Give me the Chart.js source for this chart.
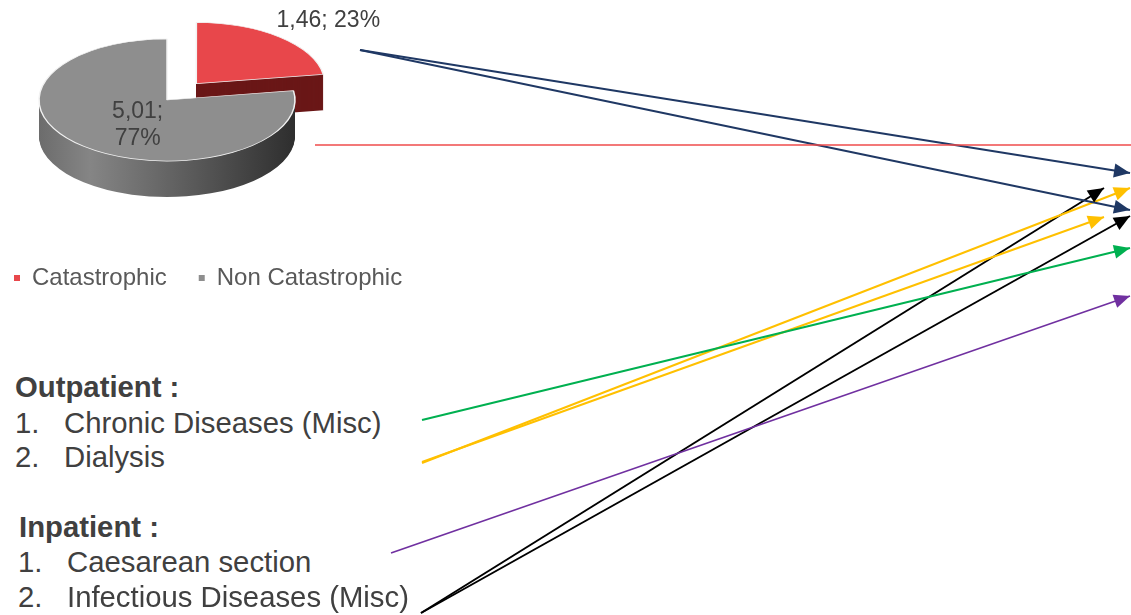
<!DOCTYPE html>
<html>
<head>
<meta charset="utf-8">
<script src="https://cdn.jsdelivr.net/npm/chart.js@4.4.1/dist/chart.umd.min.js"></script>
<style>
  body { margin: 0; width: 1131px; height: 615px; overflow: hidden; background: #fff; position: relative;
         font-family: 'Liberation Sans', Arial, sans-serif; color: #404040; }
  #pie { position: absolute; left: -18px; top: 0; }
  #links { position: absolute; left: 0; top: 0; }
  .t { position: absolute; font-size: 29.3px; line-height: 29px; white-space: nowrap; }
  .h { font-weight: bold; }
</style>
</head>
<body>
<canvas id="pie" width="640" height="300"></canvas>
<div id="notes"></div>
<canvas id="links" width="1131" height="615"></canvas>
<script>
const pieLabels = ['Catastrophic', 'Non Catastrophic'];
const pieValues = [1.46, 5.01];
const pieColors = ['#e8474b', '#8e8e8e'];

const outpatient = ['Chronic Diseases (Misc)', 'Dialysis'];
const inpatient = ['Caesarean section', 'Infectious Diseases (Misc)'];

// connectors, in page pixels
const links = [
  { color: '#ef4b4b', width: 1.3, from: [315, 145], to: [1131, 145], head: false },
  { color: '#1f3864', width: 2, from: [360, 50], to: [1130, 173], head: true },
  { color: '#1f3864', width: 2, from: [360, 50], to: [1130, 210], head: true },
  { color: '#00b050', width: 2, from: [422, 420], to: [1130, 248], head: true },
  { color: '#ffc000', width: 2, from: [422, 463], to: [1130, 188], head: true },
  { color: '#ffc000', width: 2, from: [422, 462], to: [1104, 217], head: true },
  { color: '#7030a0', width: 1.6, from: [391, 553], to: [1130, 296], head: true },
  { color: '#000000', width: 2, from: [421, 613], to: [1104, 188], head: true },
  { color: '#000000', width: 2, from: [421, 613], to: [1130, 216], head: true }
];

const depth = 36, squash = 0.477;
const pieCenter = [185, 100]; // inside the pie canvas

// left hand notes
const notes = document.getElementById('notes');
function note(text, left, base, cls) {
  const d = document.createElement('div');
  d.className = 't' + (cls ? ' ' + cls : '');
  d.style.left = left + 'px';
  d.style.top = (base - 25) + 'px';
  d.textContent = text;
  notes.appendChild(d);
}
note('Outpatient :', 15, 397, 'h');
outpatient.forEach((s, i) => { note((i + 1) + '.', 15, 433 + i * 34, ''); note(s, 64, 433 + i * 34, ''); });
note('Inpatient :', 19, 537, 'h');
inpatient.forEach((s, i) => { note((i + 1) + '.', 18, 572 + i * 35, ''); note(s, 67, 572 + i * 35, ''); });

const pie3d = {
  id: 'pie3d',
  beforeDatasetsDraw(chart) {
    const ctx = chart.ctx;
    const arcs = chart.getDatasetMeta(0).data;
    const cx = arcs[0].x, cy = arcs[0].y, r = arcs[0].outerRadius;
    const grad = ctx.createLinearGradient(cx - r, 0, cx + r, 0);
    grad.addColorStop(0, '#6c6c6c');
    grad.addColorStop(0.2, '#858585');
    grad.addColorStop(0.6, '#5a5a5a');
    grad.addColorStop(1, '#2e2e2e');
    for (let d = depth; d > 0; d--) {
      ctx.save();
      ctx.translate(pieCenter[0], pieCenter[1] + d);
      ctx.scale(1, squash);
      ctx.translate(-cx, -cy);
      arcs.forEach((a, i) => {
        const keep = a.options;
        a.options = Object.assign({}, keep, { backgroundColor: i === 0 ? '#6a1717' : grad, borderWidth: 0 });
        a.draw(ctx);
        a.options = keep;
      });
      ctx.restore();
    }
    ctx.save();
    ctx.translate(pieCenter[0], pieCenter[1]);
    ctx.scale(1, squash);
    ctx.translate(-cx, -cy);
  },
  afterDatasetsDraw(chart) {
    const ctx = chart.ctx;
    ctx.restore();
    const arcs = chart.getDatasetMeta(0).data;
    const vals = chart.data.datasets[0].data;
    const total = vals.reduce((s, v) => s + v, 0);
    ctx.save();
    ctx.fillStyle = '#404040';
    ctx.font = "23px 'Liberation Sans', Arial, sans-serif";
    ctx.textAlign = 'center';
    ctx.textBaseline = 'middle';
    arcs.forEach((a, i) => {
      const mid = (a.startAngle + a.endAngle) / 2;
      const off = (a.options.offset || 0) / 4;
      const rad = i === 0 ? off + a.outerRadius * 1.5 : a.outerRadius * 0.4;
      const x = pieCenter[0] + Math.cos(mid) * rad + (i === 0 ? 7 : 4);
      const y = pieCenter[1] + Math.sin(mid) * rad * squash + (i === 0 ? 6 : 7);
      const val = vals[i].toFixed(2).replace('.', ',');
      const pct = Math.round(vals[i] / total * 100) + '%';
      const lines = i === 0 ? [val + '; ' + pct] : [val + ';', pct];
      lines.forEach((s, k) => ctx.fillText(s, x, y + (k - (lines.length - 1) / 2) * 27));
    });
    ctx.restore();
  }
};

new Chart(document.getElementById('pie'), {
  type: 'pie',
  data: {
    labels: pieLabels,
    datasets: [{
      data: pieValues,
      backgroundColor: pieColors,
      borderColor: '#f2f2f2',
      borderWidth: 1.5,
      offset: [180, 0]
    }]
  },
  options: {
    responsive: false,
    animation: false,
    events: [],
    radius: 128,
    plugins: {
      tooltip: { enabled: false },
      legend: {
        position: 'bottom',
        align: 'start',
        labels: {
          boxWidth: 6,
          boxHeight: 6,
          padding: 32,
          color: '#595959',
          font: { family: "'Liberation Sans', Arial, sans-serif", size: 24 },
          generateLabels(chart) {
            return Chart.overrides.pie.plugins.legend.labels.generateLabels(chart)
              .map(l => Object.assign(l, { lineWidth: 0, strokeStyle: 'rgba(0,0,0,0)' }));
          }
        }
      }
    }
  },
  plugins: [pie3d]
});

const arrowHeads = {
  id: 'arrowHeads',
  afterDatasetsDraw(chart) {
    const ctx = chart.ctx;
    chart.data.datasets.forEach((ds, i) => {
      if (!ds.head) return;
      const pts = chart.getDatasetMeta(i).data;
      const p0 = pts[0], p1 = pts[pts.length - 1];
      const ang = Math.atan2(p1.y - p0.y, p1.x - p0.x);
      const len = 16, half = 7;
      ctx.save();
      ctx.translate(p1.x, p1.y);
      ctx.rotate(ang);
      ctx.beginPath();
      ctx.moveTo(0, 0);
      ctx.lineTo(-len, -half);
      ctx.lineTo(-len, half);
      ctx.closePath();
      ctx.fillStyle = ds.borderColor;
      ctx.fill();
      ctx.restore();
    });
  }
};

new Chart(document.getElementById('links'), {
  type: 'scatter',
  data: {
    datasets: links.map(l => ({
      data: [{ x: l.from[0], y: l.from[1] }, { x: l.to[0], y: l.to[1] }],
      showLine: true,
      borderColor: l.color,
      backgroundColor: l.color,
      borderWidth: l.width,
      pointRadius: 0,
      head: l.head
    }))
  },
  options: {
    responsive: false,
    animation: false,
    events: [],
    layout: { padding: 0 },
    scales: {
      x: { type: 'linear', min: 0, max: 1131, display: false },
      y: { type: 'linear', min: 0, max: 615, reverse: true, display: false }
    },
    plugins: { legend: { display: false }, tooltip: { enabled: false } }
  },
  plugins: [arrowHeads]
});
</script>
</body>
</html>
